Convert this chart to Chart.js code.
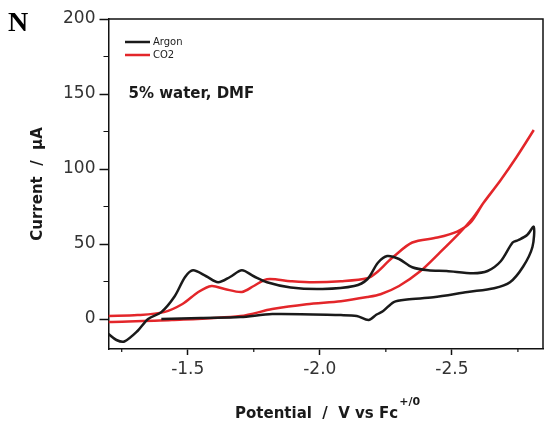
<!DOCTYPE html>
<html>
<head>
<meta charset="utf-8">
<script src="https://cdn.jsdelivr.net/npm/chart.js@4.4.0/dist/chart.umd.min.js"></script>
<style>
  html, body { margin: 0; padding: 0; background: #fff; }
  #cv { display: block; }
</style>
</head>
<body>
<canvas id="cv" width="545" height="425"></canvas>
<script>
// Cyclic voltammograms in DMF with 5% water, under argon and under CO2.
// Each scan is a closed loop, so points are kept in scan order (potential, current).

const argonPotential = [-1.20, -1.23, -1.26, -1.31, -1.35, -1.40, -1.45, -1.49, -1.52, -1.57,
  -1.615, -1.66, -1.705, -1.75, -1.80, -1.89, -2.01, -2.13, -2.18, -2.22,
  -2.255, -2.30, -2.35, -2.41, -2.48, -2.58, -2.635, -2.685, -2.73, -2.75,
  -2.785, -2.81, -2.805, -2.77, -2.72, -2.66, -2.56, -2.43, -2.33, -2.28,
  -2.24, -2.215, -2.185, -2.14, -2.08, -1.82, -1.70, -1.55, -1.40];
const argonCurrent = [-10, -14, -15, -8, 0, 4.6, 15, 28, 32.5, 28.5,
  24.5, 28, 32.5, 28.5, 24.5, 21, 20, 22, 26.5, 37.5,
  42, 40, 34.5, 32.5, 32, 30.5, 32, 38.5, 51, 52.5,
  56, 61.5, 48, 35, 24.5, 20.5, 18, 14.5, 13, 11.3,
  5.3, 3, -0.7, 2, 2.6, 3.3, 1.3, 0.7, 0];

const co2Potential = [-1.20, -1.31, -1.41, -1.48, -1.54, -1.59, -1.64, -1.705, -1.75, -1.80,
  -1.89, -1.975, -2.08, -2.18, -2.215, -2.255, -2.28, -2.35, -2.445, -2.52,
  -2.57, -2.62, -2.685, -2.745, -2.81,
  -2.745, -2.685, -2.62, -2.58, -2.53, -2.455, -2.38, -2.30, -2.23, -2.18,
  -2.08, -1.95, -1.82, -1.70, -1.44, -1.20];
const co2Current = [2, 2.6, 4.6, 10, 18, 22, 20, 18, 22, 26.5,
  25.2, 24.5, 25.2, 27.2, 31, 37.7, 41.7, 51, 54.3, 58.3,
  64.2, 77.5, 92.7, 108, 126,
  108, 92.7, 77.5, 67.5, 57.6, 44.4, 31.8, 22, 16.5, 14.6,
  11.9, 9.9, 6.6, 2.0, -0.7, -2.0];

const seriesNames = ['Argon', 'CO2'];
const xTicks = [-1.5, -2.0, -2.5];
const xMinorTicks = [-1.25, -1.75, -2.25, -2.75];
const yTicks = [0, 50, 100, 150, 200];
const yMinorTicks = [25, 75, 125, 175];

const BLACK = '#1a1a1a';
const RED = '#e3262a';
const FONT = 'DejaVu Sans';

function toPoints(xs, ys) {
  return xs.map((v, i) => ({ x: v, y: ys[i] }));
}

// box edges, minor ticks, legend and the text that sits around the plot
const framePlugin = {
  id: 'frame',
  afterDraw(chart) {
    const { ctx, chartArea: a, scales: { x, y } } = chart;
    ctx.save();
    ctx.strokeStyle = '#111';
    ctx.lineWidth = 1.5;
    ctx.beginPath();
    ctx.moveTo(a.left, a.top);
    ctx.lineTo(a.right, a.top);
    ctx.lineTo(a.right, a.bottom);
    ctx.stroke();

    ctx.lineWidth = 1.2;
    ctx.beginPath();
    xMinorTicks.forEach(v => {
      const px = x.getPixelForValue(v);
      ctx.moveTo(px, a.bottom);
      ctx.lineTo(px, a.bottom + 3);
    });
    yMinorTicks.forEach(v => {
      const py = y.getPixelForValue(v);
      ctx.moveTo(a.left, py);
      ctx.lineTo(a.left - 5, py);
    });
    ctx.stroke();

    // legend
    const colors = [BLACK, RED];
    ctx.font = '10px ' + FONT;
    ctx.textBaseline = 'middle';
    seriesNames.forEach((name, i) => {
      const ly = a.top + 23 + i * 13;
      ctx.strokeStyle = colors[i];
      ctx.lineWidth = 2.5;
      ctx.beginPath();
      ctx.moveTo(a.left + 16.5, ly);
      ctx.lineTo(a.left + 41.5, ly);
      ctx.stroke();
      ctx.fillStyle = '#222';
      ctx.fillText(name, a.left + 44.5, ly);
    });

    ctx.textBaseline = 'alphabetic';
    ctx.fillStyle = '#1a1a1a';
    ctx.font = 'bold 15px ' + FONT;
    ctx.fillText('5% water, DMF', a.left + 20, a.top + 79);

    // panel letter
    ctx.font = 'bold 28px "Liberation Serif"';
    ctx.fillStyle = '#000';
    ctx.fillText('N', 8, 31);

    // x axis title with superscript
    ctx.fillStyle = '#1a1a1a';
    ctx.font = 'bold 15px ' + FONT;
    const main = 'Potential  /  V vs Fc';
    const tx = 235;
    ctx.fillText(main, tx, 418);
    const w = ctx.measureText(main).width;
    ctx.font = 'bold 11px ' + FONT;
    ctx.fillText('+/0', tx + w + 1, 405);
    ctx.restore();
  }
};

const ctx = document.getElementById('cv').getContext('2d');
new Chart(ctx, {
  type: 'scatter',
  data: {
    datasets: [{
      label: seriesNames[0],
      data: toPoints(argonPotential, argonCurrent),
      borderColor: BLACK,
      backgroundColor: BLACK,
      borderWidth: 2.5,
      showLine: true,
      pointRadius: 0,
      tension: 0.3
    }, {
      label: seriesNames[1],
      data: toPoints(co2Potential, co2Current),
      borderColor: RED,
      backgroundColor: RED,
      borderWidth: 2.5,
      showLine: true,
      pointRadius: 0,
      tension: 0.3
    }]
  },
  options: {
    responsive: false,
    animation: false,
    layout: { padding: { left: 29, top: 19, right: 2, bottom: 0 } },
    plugins: {
      legend: { display: false },
      tooltip: { enabled: false }
    },
    scales: {
      x: {
        type: 'linear',
        reverse: true,
        min: -2.845,
        max: -1.2,
        afterBuildTicks: s => { s.ticks = xTicks.map(v => ({ value: v })); },
        afterFit: s => { s.height = 76; },
        grid: { drawOnChartArea: false, tickLength: 6, tickWidth: 1.5, tickColor: '#111' },
        border: { color: '#111', width: 1.5 },
        ticks: {
          color: '#333',
          font: { family: FONT, size: 17 },
          padding: 4,
          maxRotation: 0,
          callback: v => v.toFixed(1)
        }
      },
      y: {
        min: -20,
        max: 200,
        afterBuildTicks: s => { s.ticks = yTicks.map(v => ({ value: v })); },
        afterFit: s => { s.width = 79.5; },
        grid: { drawOnChartArea: false, tickLength: 9, tickWidth: 1.5, tickColor: '#111' },
        border: { color: '#111', width: 1.5 },
        ticks: {
          color: '#333',
          font: { family: FONT, size: 17 },
          padding: 4
        },
        title: {
          display: true,
          text: 'Current  /  μA',
          color: '#1a1a1a',
          font: { family: FONT, size: 15, weight: 'bold' },
          padding: 0
        }
      }
    }
  },
  plugins: [framePlugin]
});
</script>
</body>
</html>
